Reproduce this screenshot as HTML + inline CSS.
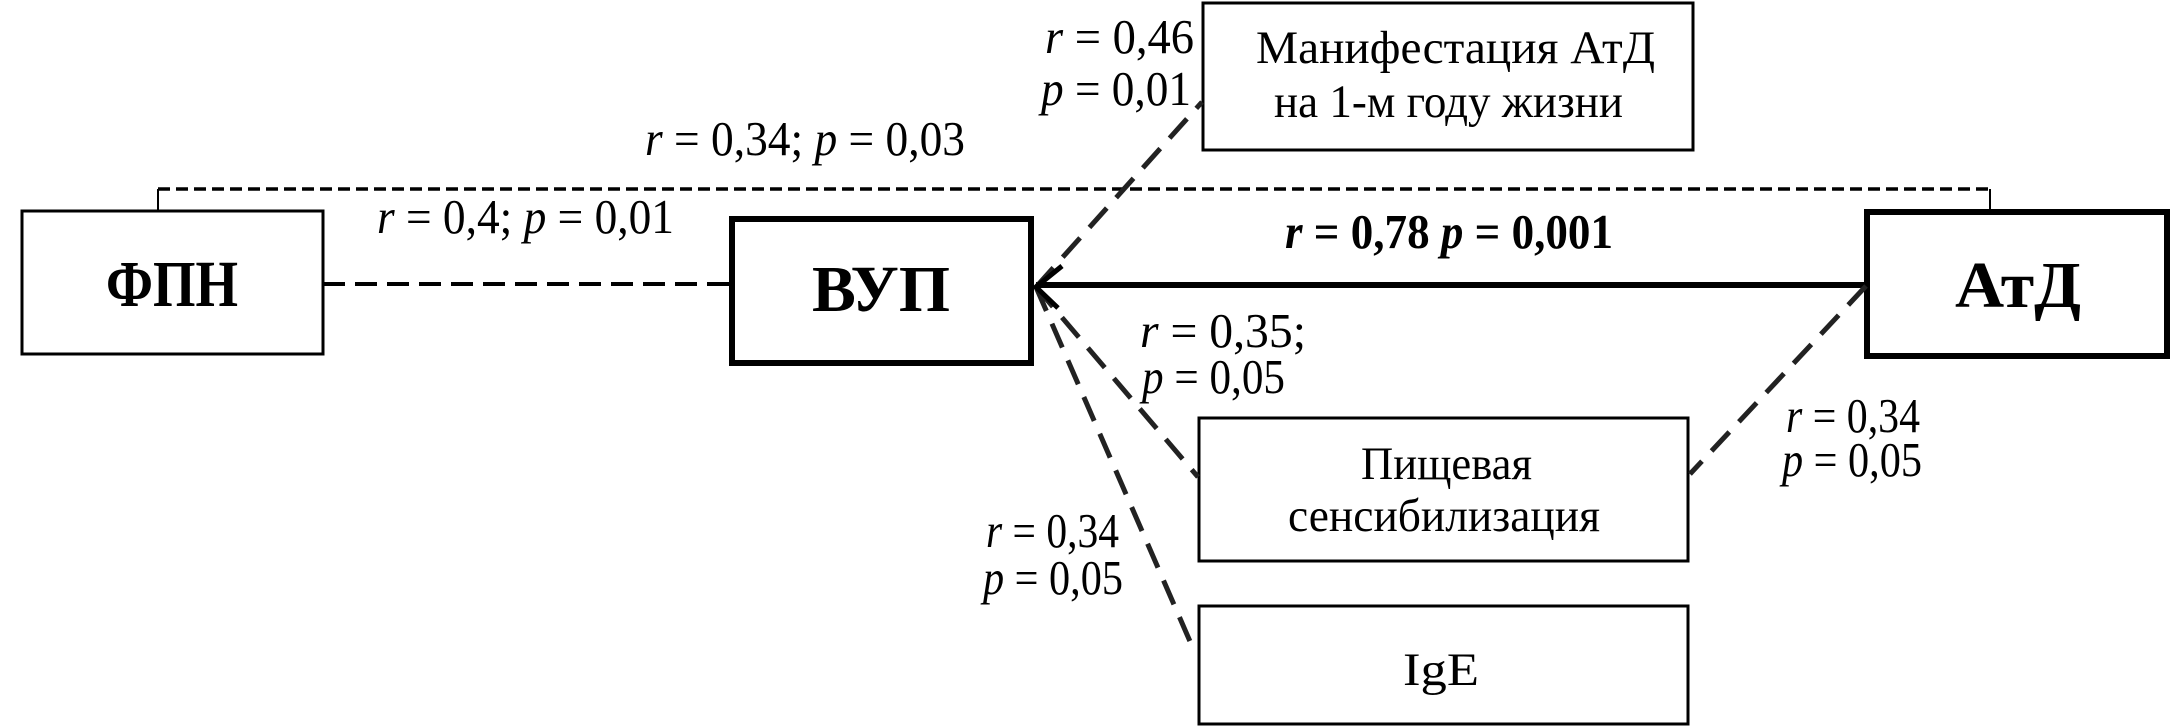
<!DOCTYPE html>
<html><head><meta charset="utf-8"><style>
html,body{margin:0;padding:0;background:#fff;}
svg{display:block;}
text{font-family:"Liberation Serif","DejaVu Serif",serif;fill:#000;}
</style></head><body>
<svg width="2171" height="727" viewBox="0 0 2171 727" xmlns="http://www.w3.org/2000/svg">
<rect x="22" y="211" width="301" height="143" fill="none" stroke="#000" stroke-width="3"/>
<rect x="732" y="219" width="299" height="144" fill="none" stroke="#000" stroke-width="6"/>
<rect x="1867" y="212" width="300" height="144" fill="none" stroke="#000" stroke-width="6"/>
<rect x="1203" y="3" width="490" height="147" fill="none" stroke="#000" stroke-width="3"/>
<rect x="1199" y="418" width="489" height="143" fill="none" stroke="#000" stroke-width="3"/>
<rect x="1199" y="606" width="489" height="118" fill="none" stroke="#000" stroke-width="3"/>

<path d="M158 211 V189" stroke="#000" stroke-width="2" fill="none"/>
<path d="M1990 211 V189" stroke="#000" stroke-width="2" fill="none"/>
<path d="M158 189 H1990" stroke="#000" stroke-width="3.5" stroke-dasharray="12 6" fill="none"/>

<path d="M323 284 H731" stroke="#000" stroke-width="4" stroke-dasharray="22 10" fill="none"/>

<path d="M1867 285 H1036" stroke="#000" stroke-width="6" fill="none"/>

<g stroke="#222" stroke-width="5" stroke-dasharray="26 14" fill="none">
<path d="M1036 287 L1202 102"/>
<path d="M1036 287 L1198 477"/>
<path d="M1036 287 L1192 646"/>
<path d="M1866 286 L1690 474"/>
</g>
<path d="M1062 266 L1036 287 L1058 308" stroke="#000" stroke-width="5" fill="none"/>

<text x="172" y="306" font-size="66" font-weight="bold" text-anchor="middle" textLength="132" lengthAdjust="spacingAndGlyphs">ФПН</text>
<text x="881" y="311" font-size="66" font-weight="bold" text-anchor="middle" textLength="138" lengthAdjust="spacingAndGlyphs">ВУП</text>
<text x="2018" y="307" font-size="66" font-weight="bold" text-anchor="middle" textLength="126" lengthAdjust="spacingAndGlyphs">АтД</text>

<text x="1256" y="63" font-size="47" textLength="399" lengthAdjust="spacingAndGlyphs">Манифестация АтД</text>
<text x="1274" y="117" font-size="47" textLength="349" lengthAdjust="spacingAndGlyphs">на 1-м году жизни</text>
<text x="1361" y="479" font-size="47" textLength="171" lengthAdjust="spacingAndGlyphs">Пищевая</text>
<text x="1288" y="531" font-size="47" textLength="312" lengthAdjust="spacingAndGlyphs">сенсибилизация</text>
<text x="1403" y="685" font-size="47" textLength="76" lengthAdjust="spacingAndGlyphs">IgE</text>

<text x="645" y="155" font-size="49" textLength="320" lengthAdjust="spacingAndGlyphs"><tspan font-style="italic">r</tspan> = 0,34; <tspan font-style="italic">p</tspan> = 0,03</text>
<text x="377" y="233" font-size="49" textLength="297" lengthAdjust="spacingAndGlyphs"><tspan font-style="italic">r</tspan> = 0,4; <tspan font-style="italic">p</tspan> = 0,01</text>
<text x="1285" y="248" font-size="49" font-weight="bold" textLength="328" lengthAdjust="spacingAndGlyphs"><tspan font-style="italic">r</tspan> = 0,78 <tspan font-style="italic">p</tspan> = 0,001</text>

<text x="1045" y="53" font-size="49" textLength="149" lengthAdjust="spacingAndGlyphs"><tspan font-style="italic">r</tspan> = 0,46</text>
<text x="1041" y="105" font-size="49" textLength="150" lengthAdjust="spacingAndGlyphs"><tspan font-style="italic">p</tspan> = 0,01</text>

<text x="1140" y="347" font-size="49" textLength="166" lengthAdjust="spacingAndGlyphs"><tspan font-style="italic">r</tspan> = 0,35;</text>
<text x="1142" y="393" font-size="49" textLength="143" lengthAdjust="spacingAndGlyphs"><tspan font-style="italic">p</tspan> = 0,05</text>

<text x="1786" y="432" font-size="49" textLength="134" lengthAdjust="spacingAndGlyphs"><tspan font-style="italic">r</tspan> = 0,34</text>
<text x="1782" y="476" font-size="49" textLength="140" lengthAdjust="spacingAndGlyphs"><tspan font-style="italic">p</tspan> = 0,05</text>

<text x="986" y="547" font-size="49" textLength="133" lengthAdjust="spacingAndGlyphs"><tspan font-style="italic">r</tspan> = 0,34</text>
<text x="983" y="594" font-size="49" textLength="140" lengthAdjust="spacingAndGlyphs"><tspan font-style="italic">p</tspan> = 0,05</text>
</svg>
</body></html>
